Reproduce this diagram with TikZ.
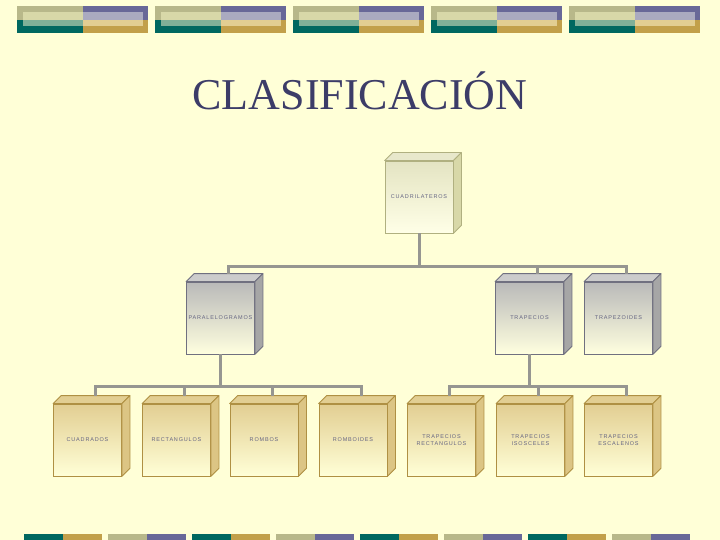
\documentclass[tikz,border=0pt]{standalone}
\usepackage{fontspec}
\setmainfont{Liberation Serif}
\newfontfamily\etiq[LetterSpace=15]{Liberation Sans}
\usepackage{xcolor}
\usepackage{tikz}
\usetikzlibrary{calc,positioning}
\definecolor{fondo}{RGB}{255,255,215}
\definecolor{oliva}{RGB}{184,184,138}
\definecolor{olivac}{RGB}{216,216,168}
\definecolor{lila}{RGB}{104,104,152}
\definecolor{lilac}{RGB}{170,170,192}
\definecolor{verde}{RGB}{0,104,96}
\definecolor{verdec}{RGB}{128,176,152}
\definecolor{oro}{RGB}{194,160,74}
\definecolor{oroc}{RGB}{226,206,146}
\definecolor{titulo}{RGB}{60,60,104}
\definecolor{linea}{RGB}{150,150,145}
\definecolor{rotulo}{RGB}{100,100,130}
\definecolor{bcrema}{RGB}{176,176,128}
\definecolor{bgris}{RGB}{112,112,128}

\begin{document}
\begin{tikzpicture}[x=1pt,y=-1pt,
  caja/.style={draw,line width=0.8pt,minimum width=68pt,minimum height=72pt,inner sep=0pt,
    font=\etiq\fontsize{5.5}{7}\selectfont,text=rotulo,align=center},
  cajacrema/.style={caja,draw=bcrema,top color=olivac!70!white,bottom color=fondo!60!white},
  cajagris/.style={caja,draw=bgris,top color=gray!55,bottom color=fondo!80!white},
  cajaoro/.style={caja,draw=oro!90!black,top color=oroc,bottom color=fondo},
  conn/.style={linea,line width=3pt}]
  \useasboundingbox (0,0) rectangle (720,540);
  \fill[fondo] (0,0) rectangle (720,540);
  % franja superior
  \foreach \bx in {17,155,293,431,569} {
    \fill[oliva] (\bx,6) rectangle (\bx+66,20);
    \fill[verde] (\bx,20) rectangle (\bx+66,33);
    \fill[lila] (\bx+66,6) rectangle (\bx+131,20);
    \fill[oro] (\bx+66,20) rectangle (\bx+131,33);
    \fill[olivac] (\bx+6,12) rectangle (\bx+66,20);
    \fill[verdec] (\bx+6,20) rectangle (\bx+66,26);
    \fill[lilac] (\bx+66,12) rectangle (\bx+126,20);
    \fill[oroc] (\bx+66,20) rectangle (\bx+126,26);}
  % franja inferior
  \foreach \bx in {24,192,360,528} {
    \fill[verde] (\bx,534) rectangle (\bx+39,540);
    \fill[oro] (\bx+39,534) rectangle (\bx+78,540);}
  \foreach \bx in {108,276,444,612} {
    \fill[oliva] (\bx,534) rectangle (\bx+39,540);
    \fill[lila] (\bx+39,534) rectangle (\bx+78,540);}
  \node[font=\fontsize{44}{50}\selectfont,text=titulo,anchor=base] (tit) at (360,110) {CLASIFICACIÓN};
  % cajas
  \node[cajacrema] (cuad) at (419,197) {CUADRILATEROS};
  \node[cajagris] (para) at (220.5,318) {PARALELOGRAMOS};
  \node[cajagris] (trap) at (529.5,318) {TRAPECIOS};
  \node[cajagris] (tzoi) at (618.5,318) {TRAPEZOIDES};
  \node[cajaoro] (cdos) at (87.5,440) {CUADRADOS};
  \node[cajaoro] (rect) at (176.5,440) {RECTANGULOS};
  \node[cajaoro] (romb) at (264,440) {ROMBOS};
  \node[cajaoro] (rboi) at (353,440) {ROMBOIDES};
  \node[cajaoro] (trec) at (441.5,440) {TRAPECIOS\\RECTANGULOS};
  \node[cajaoro] (tiso) at (530.5,440) {TRAPECIOS\\ISOSCELES};
  \node[cajaoro] (tesc) at (618.5,440) {TRAPECIOS\\ESCALENOS};
  % caras laterales
  \foreach \n/\ct/\cl/\cb in {cuad/olivac!60!white/olivac/bcrema,
      para/gray!40/gray!70/bgris,trap/gray!40/gray!70/bgris,tzoi/gray!40/gray!70/bgris,
      cdos/oroc/oroc!80!oro/oro!90!black,rect/oroc/oroc!80!oro/oro!90!black,romb/oroc/oroc!80!oro/oro!90!black,
      rboi/oroc/oroc!80!oro/oro!90!black,trec/oroc/oroc!80!oro/oro!90!black,tiso/oroc/oroc!80!oro/oro!90!black,
      tesc/oroc/oroc!80!oro/oro!90!black} {
    \filldraw[fill=\ct,draw=\cb,line width=0.8pt,line join=round] (\n.north west) -- ++(8,-8)
      -- ($(\n.north east)+(8,-8)$) -- (\n.north east) -- cycle;
    \filldraw[fill=\cl,draw=\cb,line width=0.8pt,line join=round] (\n.north east) -- ++(8,-8)
      -- ($(\n.south east)+(8,-8)$) -- (\n.south east) -- cycle;}
  % conectores
  \coordinate (bus1) at (0,266);
  \coordinate (bus2) at (0,386);
  \draw[conn] (cuad.south) -- (cuad.south |- bus1);
  \draw[conn] ($(para.north)+(8,-8)$) |- (bus1 -| cuad.south) -| ($(tzoi.north)+(8,-8)$);
  \draw[conn] ($(trap.north)+(8,-8)$) -- ($(trap.north |- bus1)+(8,0)$);
  \draw[conn] (para.south) -- (para.south |- bus2);
  \draw[conn] ($(cdos.north)+(8,-8)$) |- ($(rboi.north |- bus2)+(8,0)$) -- ($(rboi.north)+(8,-8)$);
  \draw[conn] ($(rect.north)+(8,-8)$) -- ($(rect.north |- bus2)+(8,0)$);
  \draw[conn] ($(romb.north)+(8,-8)$) -- ($(romb.north |- bus2)+(8,0)$);
  \draw[conn] (trap.south) -- (trap.south |- bus2);
  \draw[conn] ($(trec.north)+(8,-8)$) |- ($(tesc.north |- bus2)+(8,0)$) -- ($(tesc.north)+(8,-8)$);
  \draw[conn] ($(tiso.north)+(8,-8)$) -- ($(tiso.north |- bus2)+(8,0)$);
\end{tikzpicture}
\end{document}
